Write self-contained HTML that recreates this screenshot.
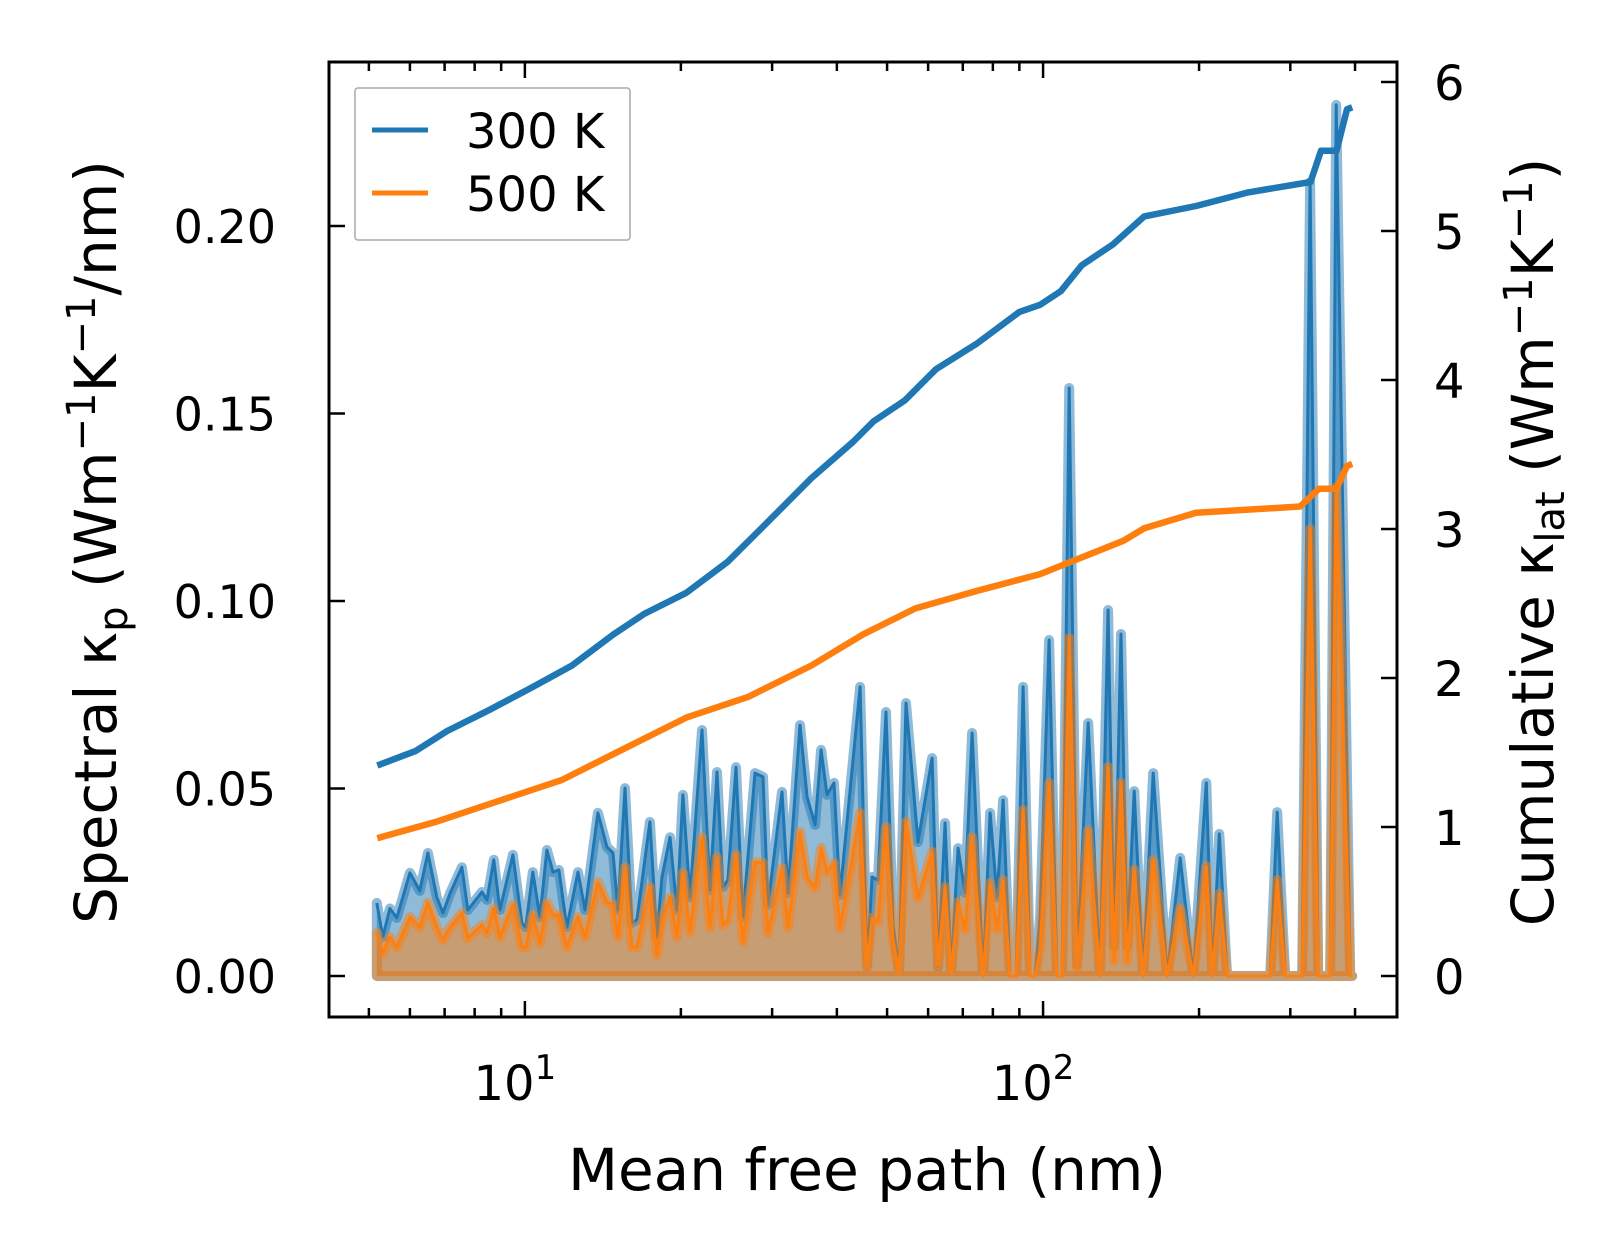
<!DOCTYPE html>
<html><head><meta charset="utf-8">
<style>
html,body{margin:0;padding:0;background:#fff;}
svg{display:block;font-family:"DejaVu Sans","Liberation Sans",sans-serif;}
</style></head>
<body>
<svg id="chart" width="1623" height="1257" viewBox="0 0 1623 1257" xmlns="http://www.w3.org/2000/svg">
<rect width="1623" height="1257" fill="#fff"/>
<g id="plot"></g>
<g id="axes"></g>
</svg>
<script>
// ---- data ----
const mfp = [5.18,5.32,5.49,5.66,6.00,6.27,6.50,6.76,6.95,7.17,7.56,7.76,8.26,8.45,8.71,8.95,9.48,9.87,10.04,10.36,10.69,11.03,11.33,11.63,12.05,12.66,13.06,13.83,14.40,14.79,15.12,15.60,16.09,16.45,17.43,17.98,18.39,19.06,19.66,20.18,20.83,21.97,22.76,23.48,24.11,24.65,25.55,26.35,27.80,28.81,29.46,31.35,32.19,33.96,35.04,36.31,37.29,38.28,39.49,40.56,44.35,45.74,46.77,48.03,49.77,51.34,52.72,54.39,57.37,61.06,62.71,64.71,66.46,68.56,70.72,72.95,76.60,79.02,81.51,83.72,86.37,88.70,91.50,94.39,96.52,98.67,102.7,106.4,108.8,112.3,116.3,122.2,128.8,133.5,137.1,141.4,145.3,149.9,156.0,163.1,173.5,183.9,194.9,206.5,212.1,218.8,226.5,274.3,283.0,293.3,316.2,327.6,339.5,358.2,367.8,391.5,395];
const spec300 = [.0195,.0104,.018,.0155,.0275,.0227,.0328,.021,.0168,.022,.029,.0176,.0224,.0203,.031,.0176,.0323,.0141,.013,.0277,.0157,.0336,.0277,.0283,.013,.0277,.0176,.0435,.0344,.0328,.0176,.0501,.0141,.015,.0411,.0104,.0264,.037,.0176,.0483,.021,.0656,.0229,.0544,.0237,.0256,.0557,.0157,.0541,.0531,.019,.0491,.0221,.0669,.0477,.0403,.0603,.0483,.0515,.0216,.0771,.0024,.0264,.0256,.0704,.0141,.0008,.0728,.0357,.0581,.0024,.0408,.0008,.0341,.0221,.0648,0,.0435,.021,.0469,0,0,.0771,0,0,.0157,.0896,0,0,.1568,.003,.0675,0,.0976,.008,.0912,.008,.0493,0,.0541,0,.0315,0,.0515,0,.0379,0,0,.0437,0,0,.2117,0,0,.2323,0,0];
const spec500 = [.0115,.0061,.0104,.0077,.0157,.013,.0195,.013,.0096,.013,.0168,.0101,.0136,.0115,.018,.0104,.019,.0077,.0077,.0163,.0088,.0195,.0163,.0163,.0077,.0157,.0104,.025,.0197,.019,.0104,.029,.0077,.0077,.0237,.0056,.015,.021,.0104,.0275,.0117,.037,.013,.0317,.0136,.015,.0323,.0091,.0304,.0301,.0115,.0288,.013,.0384,.0264,.0235,.0341,.0277,.0301,.0128,.0435,.0024,.0155,.0144,.0397,.0096,.0008,.0411,.0208,.0331,.0029,.0237,.0008,.0197,.0123,.037,0,.0248,.0123,.0256,0,0,.0443,0,0,.0069,.0515,0,0,.0901,.002,.0389,0,.0557,.004,.0515,.004,.0283,0,.0309,0,.0181,0,.0293,0,.0219,0,0,.0256,0,0,.1192,0,0,.1304,0,0];
const cumMfp300 = [5.19,6.16,7.08,8.51,10.24,12.32,14.83,17.03,20.49,24.65,29.67,35.69,42.95,47.1,54.1,62.1,74.7,89.9,98.7,108.2,118.7,136.4,156.7,197.4,248.8,328.2,343.8,368.4,385.9,395];
const cum300 = [1.413,1.511,1.644,1.783,1.93,2.083,2.293,2.432,2.572,2.781,3.06,3.34,3.584,3.723,3.863,4.072,4.247,4.456,4.505,4.596,4.77,4.91,5.098,5.168,5.259,5.329,5.538,5.538,5.817,5.83];
const cumMfp500 = [5.19,6.76,8.92,11.77,15.53,20.49,27.0,35.69,44.97,56.7,74.7,98.7,113.3,142.8,156.7,197.4,313.4,340.6,368.4,385.9,395];
const cum500 = [0.925,1.036,1.176,1.315,1.525,1.734,1.874,2.083,2.293,2.467,2.586,2.697,2.781,2.921,3.005,3.109,3.151,3.27,3.27,3.423,3.437];
const leftTicks = [0, 0.05, 0.10, 0.15, 0.20];
const leftTickLabels = ["0.00","0.05","0.10","0.15","0.20"];
const rightTicks = [0,1,2,3,4,5,6];
const xMajor = [10, 100];

// ---- axes geometry ----
const L=329, R=1397, T=62, B=1017;
const xLogMin = 0.622, xLogMax = 2.683;
const X = v => L + (Math.log10(v) - xLogMin) / (xLogMax - xLogMin) * (R - L);
const Y0 = 976, yScaleL = 3750, yScaleR = 149;
const YL = v => Y0 - v * yScaleL;
const YR = v => Y0 - v * yScaleR;
const NS = "http://www.w3.org/2000/svg";
const plot = document.getElementById('plot'), axes = document.getElementById('axes');
function mk(tag, attrs, parent){ const e=document.createElementNS(NS,tag); for(const k in attrs) e.setAttribute(k,attrs[k]); parent.appendChild(e); return e; }

function area(vals, color, name){
  let d = `M${X(mfp[0])},${YL(0)}`;
  mfp.forEach((m,i)=>{ d += ` L${X(m).toFixed(1)},${YL(vals[i]).toFixed(1)}`; });
  d += ` L${X(mfp[mfp.length-1])},${YL(0)} Z`;
  const p = mk('path',{d:d, fill:color, 'fill-opacity':0.5, stroke:color, 'stroke-opacity':0.5, 'stroke-width':10, 'stroke-linejoin':'round'}, plot);
  
  
  const pts = mfp.map((m,i)=>`${X(m).toFixed(1)},${YL(vals[i]).toFixed(1)}`).join(' ');
  const l = mk('polyline',{points:pts, fill:'none', stroke:color, 'stroke-width':3, 'stroke-linejoin':'round'}, plot);
  
  
}
area(spec300, '#1f77b4', 'spectral-300k');
area(spec500, '#ff7f0e', 'spectral-500k');

function cumLine(xs, vals, color, name){
  const pts = xs.map((m,i)=>`${X(m).toFixed(1)},${YR(vals[i]).toFixed(1)}`).join(' ');
  const l = mk('polyline',{points:pts, fill:'none', stroke:color, 'stroke-width':6.5, 'stroke-linejoin':'round'}, plot);
  
  
}
cumLine(cumMfp300, cum300, '#1f77b4', 'cumulative-300k-line');
cumLine(cumMfp500, cum500, '#ff7f0e', 'cumulative-500k-line');

// frame
const frame = mk('rect',{x:L,y:T,width:R-L,height:B-T,fill:'none',stroke:'#000','stroke-width':3}, axes);



// x ticks (log)
for(let e=0;e<3;e++){
  for(let k=1;k<10;k++){
    const v = k*Math.pow(10,e);
    const lv = Math.log10(v);
    if(lv<xLogMin||lv>xLogMax) continue;
    const x = X(v), len = (k===1)?16:9;
    mk('line',{x1:x,y1:B,x2:x,y2:B-len,stroke:'#000','stroke-width':2.5},axes);
    mk('line',{x1:x,y1:T,x2:x,y2:T+len,stroke:'#000','stroke-width':2.5},axes);
  }
}
xMajor.forEach((v,i)=>{
  const t = mk('text',{x:X(v)-10,y:1100,'font-size':48,'text-anchor':'middle',fill:'#000'},axes);
  t.textContent='10';
  const s = mk('tspan',{dy:-21,'font-size':34},t);
  s.textContent = String(i+1);
  
  
});
// left ticks
leftTicks.forEach((v,i)=>{
  const y=YL(v);
  mk('line',{x1:L,y1:y,x2:L+16,y2:y,stroke:'#000','stroke-width':2.5},axes);
  const t = mk('text',{x:276,y:y+17,'font-size':46,'text-anchor':'end',fill:'#000'},axes);
  t.textContent = leftTickLabels[i];
  
  
});
// right ticks
rightTicks.forEach(v=>{
  const y=YR(v);
  mk('line',{x1:R,y1:y,x2:R-16,y2:y,stroke:'#000','stroke-width':2.5},axes);
  const t = mk('text',{x:1434,y:y+18,'font-size':48,'text-anchor':'start',fill:'#000'},axes);
  t.textContent = String(v);
  
  
});
</script>
<svg style="position:absolute;left:0;top:0" width="1623" height="1257" xmlns="http://www.w3.org/2000/svg" font-family="DejaVu Sans, Liberation Sans, sans-serif">
  <text x="867" y="1190" font-size="58" text-anchor="middle">Mean free path (nm)</text>
  <text transform="translate(116,542) rotate(-90)" font-size="58" text-anchor="middle">Spectral κ<tspan font-size="40" dy="11">p</tspan><tspan dy="-11"> (Wm</tspan><tspan font-size="40" dy="-21">−1</tspan><tspan dy="21">K</tspan><tspan font-size="40" dy="-21">−1</tspan><tspan dy="21">/nm)</tspan></text>
  <text transform="translate(1553,542) rotate(-90)" font-size="58" text-anchor="middle">Cumulative κ<tspan font-size="40" dy="11">lat</tspan><tspan dy="-11"> (Wm</tspan><tspan font-size="40" dy="-21">−1</tspan><tspan dy="21">K</tspan><tspan font-size="40" dy="-21">−1</tspan><tspan dy="21">)</tspan></text>
  <g>
    <rect x="355" y="88" width="275" height="152" rx="3" fill="#fff" fill-opacity="0.8" stroke="#aaa" stroke-width="1.5"/>
    <line x1="372" y1="130" x2="428" y2="130" stroke="#1f77b4" stroke-width="5"/>
    <text x="466" y="148" font-size="48">300 K</text>
    <line x1="372" y1="193" x2="428" y2="193" stroke="#ff7f0e" stroke-width="5"/>
    <text x="466" y="211" font-size="48">500 K</text>
  </g>
</svg>
</body></html>
